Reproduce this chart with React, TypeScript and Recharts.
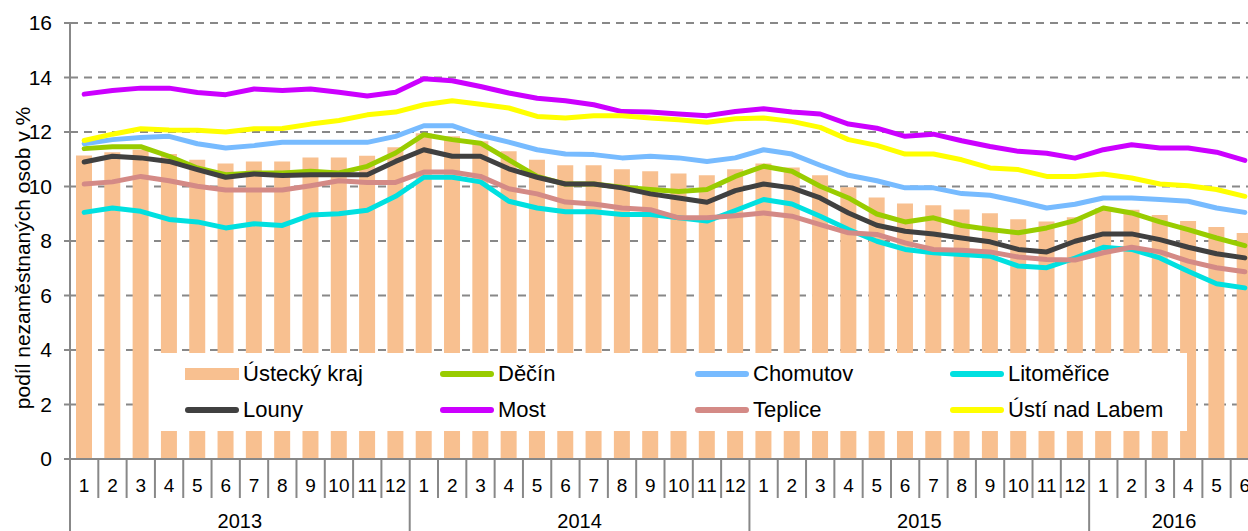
import { Bar, CartesianGrid, ComposedChart, Legend, Line, XAxis, YAxis } from 'recharts'

const FONT = '"Liberation Sans", Arial, sans-serif'
const GRID = '#888888'

const years = [2013, 2014, 2015, 2016]
const monthsPerYear = [12, 12, 12, 6]
const yTicks = [0, 2, 4, 6, 8, 10, 12, 14, 16]

// podíl nezaměstnaných osob v % (měsíčně 1/2013 – 6/2016)
const ustecky = [
  11.14, 11.26, 11.35, 11.19, 10.98, 10.84, 10.92, 10.92, 11.06, 11.06, 11.13, 11.44,
  11.95, 11.84, 11.66, 11.29, 10.98, 10.78, 10.78, 10.63, 10.56, 10.48, 10.41, 10.63,
  10.84, 10.7, 10.41, 9.97, 9.6, 9.38, 9.31, 9.16, 9.02, 8.8, 8.72, 8.87,
  9.2, 9.15, 8.95, 8.73, 8.51, 8.29,
]
const decin = [
  11.39, 11.46, 11.46, 11.11, 10.68, 10.43, 10.5, 10.5, 10.56, 10.5, 10.74, 11.23,
  11.9, 11.72, 11.59, 10.98, 10.37, 10.09, 10.09, 9.97, 9.89, 9.82, 9.89, 10.37,
  10.74, 10.56, 10.01, 9.58, 8.99, 8.7, 8.85, 8.57, 8.42, 8.3, 8.48, 8.75,
  9.21, 9.03, 8.7, 8.42, 8.11, 7.83,
]
const chomutov = [
  11.57, 11.72, 11.8, 11.84, 11.57, 11.41, 11.5, 11.62, 11.62, 11.62, 11.62, 11.84,
  12.23, 12.23, 11.88, 11.63, 11.35, 11.19, 11.17, 11.05, 11.11, 11.05, 10.92, 11.05,
  11.35, 11.19, 10.78, 10.41, 10.21, 9.95, 9.95, 9.74, 9.68, 9.46, 9.21, 9.35,
  9.58, 9.58, 9.52, 9.46, 9.21, 9.05,
]
const litomerice = [
  9.05, 9.21, 9.09, 8.79, 8.7, 8.48, 8.63, 8.57, 8.95, 9.0, 9.13, 9.64,
  10.34, 10.34, 10.17, 9.46, 9.21, 9.07, 9.07, 8.97, 8.97, 8.85, 8.73, 9.12,
  9.52, 9.36, 8.91, 8.42, 7.99, 7.69, 7.57, 7.5, 7.44, 7.08, 7.02, 7.37,
  7.77, 7.69, 7.38, 6.89, 6.43, 6.28,
]
const louny = [
  10.9, 11.11, 11.05, 10.92, 10.62, 10.34, 10.46, 10.4, 10.43, 10.43, 10.43, 10.92,
  11.35, 11.11, 11.11, 10.65, 10.34, 10.09, 10.09, 9.95, 9.73, 9.58, 9.42, 9.85,
  10.09, 9.95, 9.58, 9.03, 8.58, 8.36, 8.26, 8.11, 7.97, 7.69, 7.6, 7.99,
  8.26, 8.26, 8.05, 7.77, 7.53, 7.38,
]
const most = [
  13.39, 13.52, 13.61, 13.61, 13.45, 13.37, 13.58, 13.52, 13.58, 13.46, 13.32, 13.46,
  13.95, 13.88, 13.67, 13.43, 13.24, 13.15, 13.0, 12.75, 12.73, 12.66, 12.6, 12.75,
  12.85, 12.73, 12.66, 12.29, 12.14, 11.84, 11.92, 11.68, 11.47, 11.29, 11.22, 11.04,
  11.35, 11.53, 11.41, 11.41, 11.26, 10.96,
]
const teplice = [
  10.09, 10.17, 10.37, 10.21, 10.01, 9.87, 9.87, 9.87, 10.03, 10.21, 10.15, 10.15,
  10.53, 10.53, 10.37, 9.92, 9.73, 9.43, 9.36, 9.21, 9.15, 8.85, 8.85, 8.93,
  9.03, 8.91, 8.6, 8.3, 8.24, 7.93, 7.69, 7.66, 7.6, 7.41, 7.32, 7.3,
  7.57, 7.77, 7.6, 7.26, 7.02, 6.87,
]
const usti = [
  11.69, 11.92, 12.12, 12.07, 12.06, 12.0, 12.12, 12.13, 12.29, 12.42, 12.63, 12.73,
  13.0, 13.15, 13.02, 12.88, 12.57, 12.51, 12.6, 12.6, 12.51, 12.45, 12.36, 12.49,
  12.51, 12.39, 12.17, 11.72, 11.51, 11.19, 11.19, 10.98, 10.68, 10.62, 10.37, 10.37,
  10.46, 10.31, 10.09, 10.03, 9.89, 9.64,
]

const BAR_COLOR = '#F8C090'
const series = [
  { key: 'decin', name: 'Děčín', color: '#99CC00', values: decin },
  { key: 'chomutov', name: 'Chomutov', color: '#77BBFF', values: chomutov },
  { key: 'litomerice', name: 'Litoměřice', color: '#00E0E0', values: litomerice },
  { key: 'louny', name: 'Louny', color: '#404040', values: louny },
  { key: 'most', name: 'Most', color: '#CC00FF', values: most },
  { key: 'teplice', name: 'Teplice', color: '#D48A86', values: teplice },
  { key: 'usti', name: 'Ústí nad Labem', color: '#FFFF00', values: usti },
]

const periods = years.flatMap((year, yi) =>
  Array.from({ length: monthsPerYear[yi] }, (_, m) => ({ year, month: m + 1, yi })),
)

const data = periods.map((p, i) => {
  const row: Record<string, number> = { month: p.month, ustecky: ustecky[i] }
  series.forEach((s) => (row[s.key] = s.values[i]))
  return row
})

const CHART_W = 1260
const CHART_H = 545
const Y_W = 70
const M_RIGHT = 1
const BW = (CHART_W - Y_W - M_RIGHT) / periods.length

function MonthTick(props: any) {
  const { x, y, payload } = props
  const p = periods[payload.index]
  if (!p) return null
  const left = x - BW / 2
  const yearStart = p.month === 1
  return (
    <g>
      <line x1={left} x2={left} y1={y} y2={y + (yearStart ? 90 : 39)} stroke={GRID} strokeWidth={2} />
      <text x={x} y={y + 33} textAnchor="middle" fontSize={19} fill="#000" fontFamily={FONT}>
        {p.month}
      </text>
      {yearStart && (
        <text
          x={left + (monthsPerYear[p.yi] * BW) / 2}
          y={y + 69}
          textAnchor="middle"
          fontSize={20}
          fill="#000"
          fontFamily={FONT}
        >
          {p.year}
        </text>
      )}
    </g>
  )
}

function YLabel() {
  return (
    <text
      x={22}
      y={258}
      transform="rotate(-90 22 258)"
      textAnchor="middle"
      dominantBaseline="central"
      fontSize={21}
      fill="#000"
      fontFamily={FONT}
    >
      podíl nezaměstnaných osob v %
    </text>
  )
}

function LegendBox() {
  const items = [{ name: 'Ústecký kraj', color: BAR_COLOR, bar: true }, ...series.map((s) => ({ ...s, bar: false }))]
  return (
    <div style={{ position: 'relative', width: 1036, height: 78, background: '#fff', fontFamily: FONT }}>
      {items.map((it, i) => (
        <div
          key={it.name}
          style={{
            position: 'absolute',
            left: 34 + (i % 4) * 255,
            top: Math.floor(i / 4) * 36 + 4,
            height: 34,
            display: 'flex',
            alignItems: 'center',
            whiteSpace: 'nowrap',
          }}
        >
          <span
            style={{
              display: 'inline-block',
              width: 54,
              height: it.bar ? 12 : 6,
              borderRadius: it.bar ? 0 : 3,
              background: it.color,
            }}
          />
          <span style={{ marginLeft: 4, fontSize: 22, color: '#000', lineHeight: '34px' }}>{it.name}</span>
        </div>
      ))}
    </div>
  )
}

export default function App() {
  return (
    <div
      style={{
        position: 'absolute',
        left: 0,
        top: 0,
        width: 1248,
        height: 531,
        overflow: 'hidden',
        background: '#fff',
        fontFamily: FONT,
      }}
    >
      <ComposedChart
        width={CHART_W}
        height={CHART_H}
        data={data}
        margin={{ top: 23, right: M_RIGHT, bottom: 0, left: 0 }}
      >
        <CartesianGrid vertical={false} stroke={GRID} strokeWidth={2} strokeDasharray="8 6" />
        <XAxis
          dataKey="month"
          height={CHART_H - 459}
          interval={0}
          tickSize={0}
          tickMargin={0}
          tickLine={false}
          axisLine={{ stroke: GRID, strokeWidth: 2 }}
          tick={(p: any) => <MonthTick {...p} />}
        />
        <YAxis
          width={Y_W}
          domain={[0, 16]}
          ticks={yTicks}
          interval={0}
          tickSize={6}
          tickMargin={12}
          tickLine={{ stroke: GRID, strokeWidth: 2 }}
          axisLine={{ stroke: GRID, strokeWidth: 2 }}
          tick={{ fontSize: 21, fill: '#000', fontFamily: FONT }}
          label={{ content: () => <YLabel /> }}
        />
        <Bar dataKey="ustecky" name="Ústecký kraj" fill={BAR_COLOR} barSize={16} isAnimationActive={false} />
        {series.map((s) => (
          <Line
            key={s.key}
            dataKey={s.key}
            name={s.name}
            stroke={s.color}
            strokeWidth={5}
            strokeLinecap="round"
            strokeLinejoin="round"
            dot={false}
            activeDot={false}
            isAnimationActive={false}
          />
        ))}
        <Legend
          layout="vertical"
          verticalAlign="middle"
          align="center"
          content={() => <LegendBox />}
          wrapperStyle={{ left: 151, top: 353, width: 1036, height: 78, right: 'auto', bottom: 'auto' }}
        />
      </ComposedChart>
    </div>
  )
}
